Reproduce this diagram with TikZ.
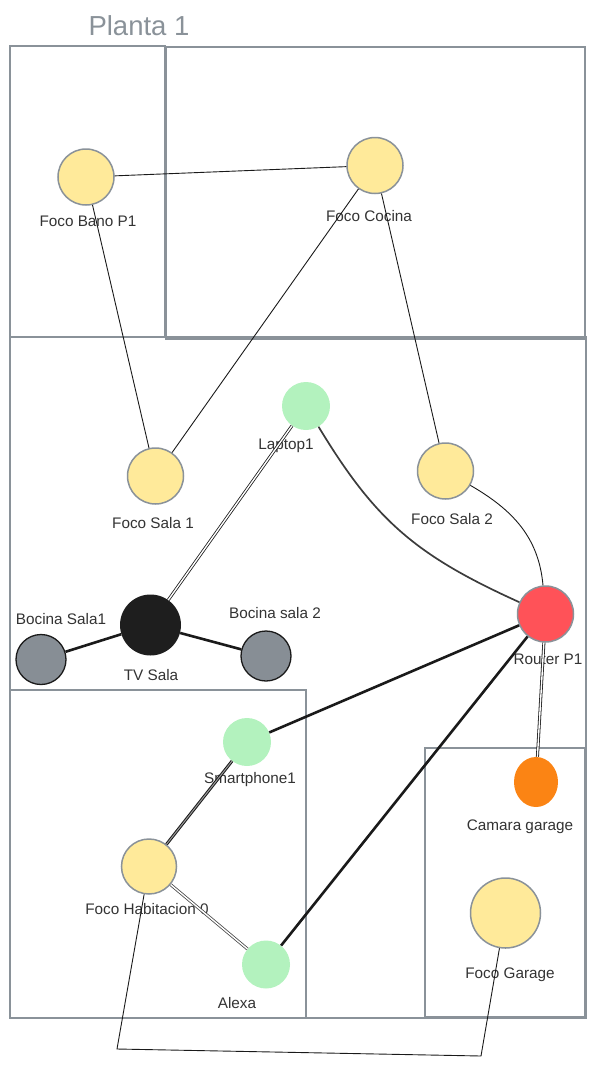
\documentclass[tikz,border=0pt]{standalone}
\usepackage{fontspec}
\setmainfont{Liberation Sans}
\usetikzlibrary{shapes.geometric}
\definecolor{framec}{HTML}{8A9299}
\definecolor{bulbc}{HTML}{FFEA9A}
\definecolor{devc}{HTML}{B3F2BE}
\definecolor{routc}{HTML}{FF5258}
\definecolor{camc}{HTML}{FB8414}
\definecolor{spkc}{HTML}{878E95}
\definecolor{tvc}{HTML}{1E1E1E}
\definecolor{inkc}{HTML}{1A1A1A}
\definecolor{txtc}{HTML}{333333}
\begin{document}
\begin{tikzpicture}[x=1pt,y=-1pt,
  room/.style={draw=framec,line width=2.4pt},
  bulb/.style={circle,draw=framec,fill=bulbc,line width=1.5pt,inner sep=0pt},
  dev/.style={circle,fill=devc,inner sep=0pt,minimum size=48pt},
  spk/.style={circle,draw=inkc,fill=spkc,line width=1.3pt,inner sep=0pt,minimum size=50pt},
  lbl/.style={text=txtc,font=\fontsize{15.3}{17}\selectfont,inner sep=0pt},
  thin/.style={draw=inkc,line width=0.9pt},
  thick/.style={draw=inkc,line width=2.6pt},
  dbl/.style={draw=inkc,line width=0.8pt,double=white,double distance=1.4pt},
]
\useasboundingbox (0,0) rectangle (596,1066);
% rooms
\draw[room,line width=2pt] (10,337) rectangle (586,1018);
\draw[room] (10,46) rectangle (165,337);
\draw[room] (166,47) rectangle (585,339);
\draw[room,line width=2pt] (10,690) rectangle (306,1018);
\draw[room,line width=2pt] (425,748) rectangle (585,1017);
\node[text=framec,font=\fontsize{27.5}{31}\selectfont] (title) at (139,26) {Planta 1};
% nodes
\node[bulb,minimum size=56pt] (fbp) at (86,177) {};
\node[bulb,minimum size=56pt] (fco) at (375,165.5) {};
\node[bulb,minimum size=56pt] (fs1) at (155.5,476) {};
\node[dev] (lap) at (306,406) {};
\node[bulb,minimum size=56pt] (fs2) at (445.5,471) {};
\node[circle,fill=tvc,inner sep=0pt,minimum size=61pt] (tv) at (150.5,625) {};
\node[spk] (b1) at (41,659.5) {};
\node[spk] (b2) at (266,656) {};
\node[circle,draw=framec,fill=routc,line width=1.5pt,inner sep=0pt,minimum size=56pt] (rt) at (545.5,614) {};
\node[ellipse,fill=camc,inner sep=0pt,minimum width=44pt,minimum height=50pt] (cam) at (536,782) {};
\node[dev] (sp) at (247,742) {};
\node[bulb,minimum size=55pt] (fh) at (149,866.5) {};
\node[dev] (alx) at (266,964.5) {};
\node[bulb,minimum size=70pt] (fg) at (505.5,913) {};
% labels
\node[lbl] (fbpl) at (88,221) {Foco Bano P1};
\node[lbl] (fcol) at (369,216) {Foco Cocina};
\node[lbl] (fs1l) at (153,523) {Foco Sala 1};
\node[lbl] (lapl) at (286,446) {Laptop1};
\node[lbl] (fs2l) at (452,519) {Foco Sala 2};
\node[lbl] (tvl) at (151,675) {TV Sala};
\node[lbl] (b1l) at (61,619) {Bocina Sala1};
\node[lbl] (b2l) at (275,613) {Bocina sala 2};
\node[lbl] (rtl) at (548,659) {Router P1};
\node[lbl] (caml) at (520,827) {Camara garage};
\node[lbl] (spl) at (250,780) {Smartphone1};
\node[lbl] (fhl) at (147,909) {Foco Habitacion 0};
\node[lbl] (alxl) at (237,1003) {Alexa};
\node[lbl] (fgl) at (510,975) {Foco Garage};
% bends
\coordinate (k1) at (117,1049);
\coordinate (k2) at (481,1056);
% connectors
\draw[thin] (fbp) -- (fco);
\draw[thin] (fbp) -- (fs1);
\draw[thin] (fco) -- (fs1);
\draw[thin] (fco) -- (fs2);
\draw[thin] (fs2) to[out=-30,in=95] (rt);
\draw[draw=inkc!85,line width=1.7pt] (lap) .. controls (375,520) and (415,555) .. (rt);
\draw[dbl] (lap) -- (tv);
\draw[thick] (tv) -- (b1);
\draw[thick] (tv) -- (b2);
\draw[thick] (rt) -- (sp);
\draw[thick] (rt) -- (alx);
\draw[dbl] (rt) -- (cam);
\draw[draw=inkc,line width=1pt,double=inkc!45,double distance=1pt] (sp) -- (fh);
\draw[dbl,draw=inkc!80] (fh) -- (alx);
\draw[thin] (fh) -- (k1) -- (k2) -- (fg);
\end{tikzpicture}
\end{document}
